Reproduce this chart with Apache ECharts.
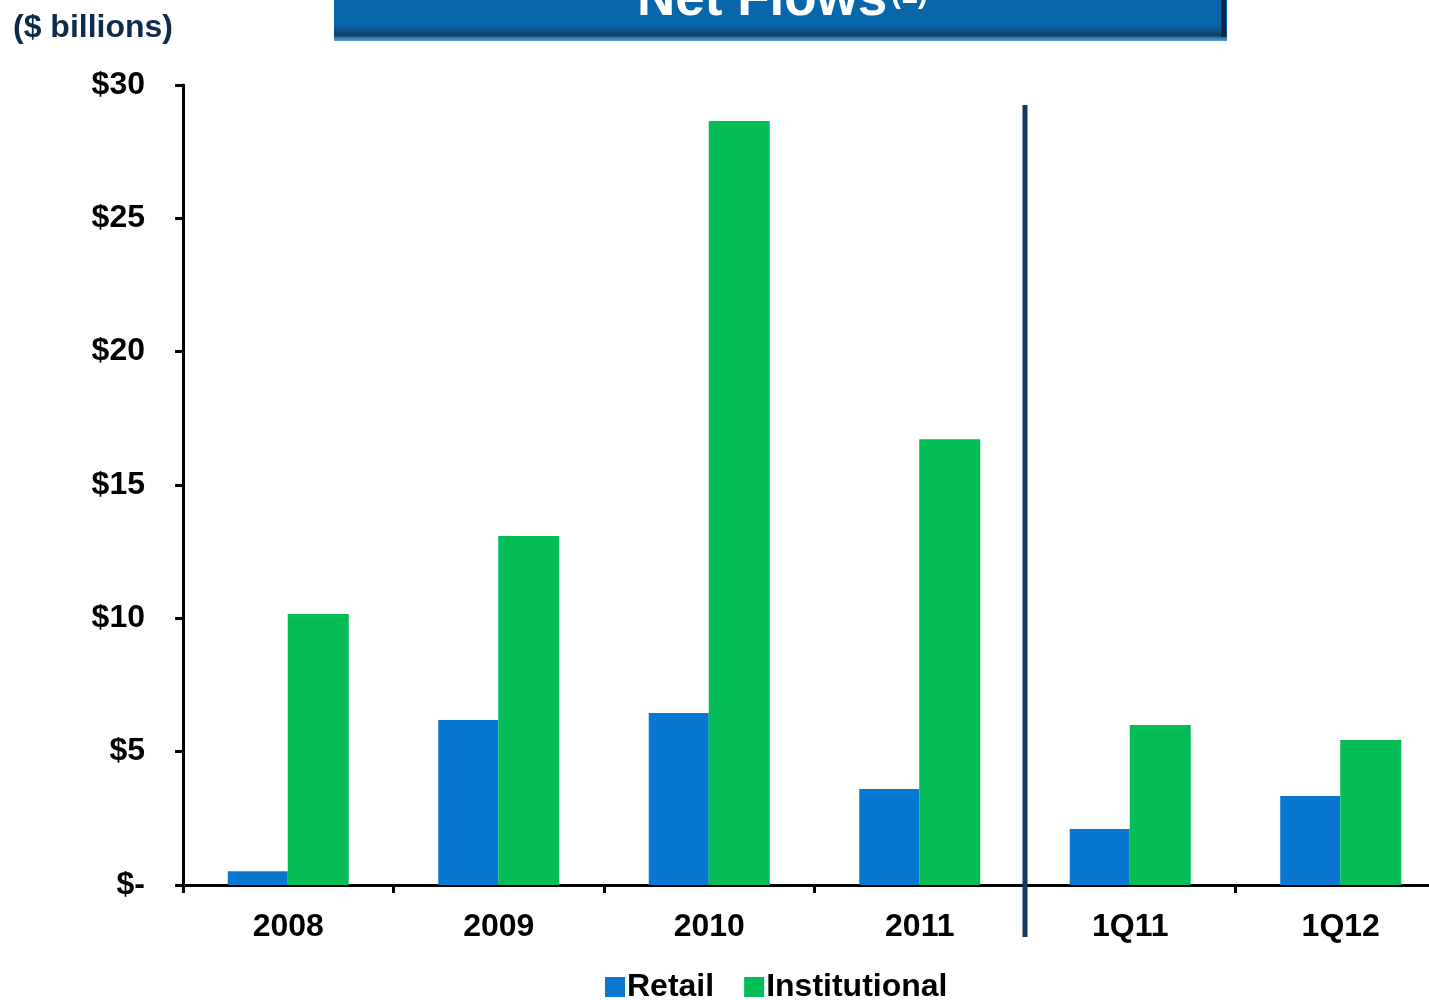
<!DOCTYPE html>
<html>
<head>
<meta charset="utf-8">
<script src="https://cdn.jsdelivr.net/npm/echarts@6/dist/echarts.min.js"></script>
<style>
html,body{margin:0;padding:0;background:#fff;overflow:hidden;width:1429px;height:1000px;}
#chart{width:1450px;height:1000px;}
</style>
</head>
<body>
<div id="chart"></div>
<script>
const categories = ['2008', '2009', '2010', '2011', '1Q11', '1Q12'];
const retail = [0.52, 6.19, 6.45, 3.6, 2.1, 3.34];
const institutional = [10.16, 13.09, 28.65, 16.72, 6.0, 5.44];
const yTicks = [0, 5, 10, 15, 20, 25, 30];

const FONT = '"Liberation Sans", Arial, sans-serif';
const chart = echarts.init(document.getElementById('chart'));

const option = {
  backgroundColor: '#ffffff',
  animation: false,
  grid: { left: 183, top: 85, width: 1263, height: 800, containLabel: false },
  legend: {
    left: 600, top: 966,
    itemWidth: 20, itemHeight: 20, itemGap: 30,
    icon: 'rect',
    textStyle: { fontFamily: FONT, fontWeight: 'bold', fontSize: 32, color: '#000', padding: [0,0,0,-3] },
    data: ['Retail', 'Institutional']
  },
  xAxis: {
    type: 'category',
    data: categories,
    axisLine: { lineStyle: { color: '#000', width: 3 } },
    axisTick: { show: true, alignWithLabel: false, length: 8, lineStyle: { color: '#000', width: 3 } },
    axisLabel: { fontFamily: FONT, fontWeight: 'bold', fontSize: 32, color: '#000', margin: 26 },
    splitLine: { show: false }
  },
  yAxis: {
    type: 'value',
    min: 0, max: 30, interval: 5,
    axisLine: { show: true, lineStyle: { color: '#000', width: 3 } },
    axisTick: { show: true, length: 8, lineStyle: { color: '#000', width: 3 } },
    axisLabel: {
      fontFamily: FONT, fontWeight: 'bold', fontSize: 32, color: '#000', margin: 38,
      formatter: v => yTicks.includes(v) ? (v === 0 ? '$-' : '$' + v) : ''
    },
    splitLine: { show: false }
  },
  series: [
    { name: 'Retail', type: 'bar', data: retail, barWidth: 60, barGap: '0%',
      itemStyle: { color: '#0777CF' } },
    { name: 'Institutional', type: 'bar', data: institutional, barWidth: 61, barGap: '0%',
      itemStyle: { color: '#05BD56' } }
  ]
};
chart.setOption(option);

const x3 = chart.convertToPixel({ xAxisIndex: 0 }, 3);
const x4 = chart.convertToPixel({ xAxisIndex: 0 }, 4);
const sepX = (x3 + x4) / 2;

chart.setOption({
  graphic: [
    {
      type: 'rect', z: 10,
      shape: { x: 334, y: -30, width: 893, height: 71 },
      style: {
        fill: new echarts.graphic.LinearGradient(0, 0, 0, 1, [
          { offset: 0, color: '#0868AE' },
          { offset: 0.78, color: '#0866AA' },
          { offset: 0.86, color: '#0d4f80' },
          { offset: 0.93, color: '#123e63' },
          { offset: 0.945, color: '#2a6ea6' },
          { offset: 1, color: '#5a9ad0' }
        ])
      }
    },
    {
      type: 'rect', z: 10,
      shape: { x: 1221, y: -30, width: 5, height: 67 },
      style: { fill: '#0a2a48' }
    },
    {
      type: 'text', z: 11,
      x: 637, y: 0,
      style: {
        text: 'Net Flows',
        fontFamily: FONT, fontWeight: 'bold', fontSize: 53, fill: '#fff',
        align: 'left', verticalAlign: 'middle'
      }
    },
    {
      type: 'text', z: 11,
      x: 891, y: -5,
      style: {
        text: '(1)',
        fontFamily: FONT, fontWeight: 'bold', fontSize: 30, fill: '#fff',
        align: 'left', verticalAlign: 'middle'
      }
    },
    {
      type: 'text', z: 11,
      x: 13, y: 28,
      style: {
        text: '($ billions)',
        fontFamily: FONT, fontWeight: 'bold', fontSize: 32, fill: '#0d2b4a',
        verticalAlign: 'middle', align: 'left'
      }
    },
    {
      type: 'rect', z: 12,
      shape: { x: sepX - 2.5, y: 105, width: 5, height: 832 },
      style: { fill: '#123a5c' }
    }
  ]
});
</script>
</body>
</html>
